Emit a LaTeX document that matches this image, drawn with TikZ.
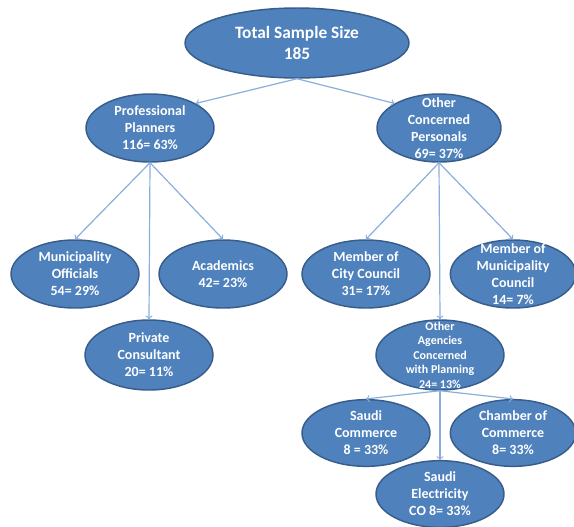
\documentclass[tikz,border=0pt]{standalone}
\usepackage{fontspec}
\setmainfont{Carlito}
\usepackage{xcolor}
\usetikzlibrary{shapes.geometric}

\definecolor{ellfill}{HTML}{4F81BD}
\definecolor{elldraw}{HTML}{385D8A}
\definecolor{linkblue}{HTML}{8AAEDC}

\begin{document}
\begin{tikzpicture}[
    x=0.75pt, y=-0.75pt,
    ellbox/.style={ellipse, draw=elldraw, line width=1.1pt, fill=ellfill, inner sep=0pt, minimum width=96pt, minimum height=51pt},
    ltext/.style={text=white, font=\bfseries\fontsize{10.5}{12.75}\selectfont, align=center},
    stext/.style={ltext, font=\bfseries\fontsize{9}{10.9}\selectfont},
    ttext/.style={ltext, font=\bfseries\fontsize{13}{15.5}\selectfont},
    arrow/.style={->, >=to, linkblue, line width=0.9pt}
]
\useasboundingbox (0,0) rectangle (574,526);

% Total
\node[ellbox, minimum width=168pt, minimum height=52.5pt, label={[ttext]center:{Total Sample Size\\185}}] (total) at (297,43) {};

% Second level
\node[ellbox, label={[ltext]center:{Professional\\Planners\\116= 63\%}}] (pp) at (150,128) {};
\node[ellbox, minimum width=93pt, label={[ltext]center:{Other\\Concerned\\Personals\\69= 37\%}}] (ocp) at (439,128) {};

% Professional planners
\node[ellbox, label={[ltext]center:{Municipality\\Officials\\54= 29\%}}] (mo) at (75,274) {};
\node[ellbox, label={[ltext]center:{Academics\\42= 23\%}}] (acad) at (223,274) {};
\node[ellbox, minimum height=52.5pt, label={[ltext]center:{Private\\Consultant\\20= 11\%}}] (pc) at (149,355) {};

% Other concerned personals
\node[ellbox, label={[ltext]center:{Member of\\City Council\\31= 17\%}}] (mcc) at (366,274) {};
\node[ellbox, minimum width=94pt, label={[ltext]center:{Member of\\Municipality\\Council\\14= 7\%}}] (mmc) at (513,274) {};
\node[ellbox, minimum height=52.5pt, label={[stext]center:{Other\\Agencies\\Concerned\\with Planning\\24= 13\%}}] (oa) at (440,355) {};

% Other agencies
\node[ellbox, minimum height=50pt, label={[ltext]center:{Saudi\\Commerce\\8 = 33\%}}] (sc) at (366,433) {};
\node[ellbox, minimum width=94pt, minimum height=50pt, label={[ltext]center:{Chamber of\\Commerce\\8= 33\%}}] (cc) at (513,433) {};
\node[ellbox, minimum height=50pt, label={[ltext]center:{Saudi\\Electricity\\CO 8= 33\%}}] (se) at (440,494) {};

% Arrows
\draw[arrow] (total.south) -- (pp.north east);
\draw[arrow] (total.south) -- (ocp.north west);
\draw[arrow] (pp.south) -- (mo.north);
\draw[arrow] (pp.south) -- (acad.north);
\draw[arrow] (pp.south) -- (pc.north);
\draw[arrow] (ocp.south) -- (mcc.north);
\draw[arrow] (ocp.south) -- (mmc.north);
\draw[arrow] (ocp.south) -- (oa.north);
\draw[arrow] (oa.south) -- (sc.north);
\draw[arrow] (oa.south) -- (cc.north);
\draw[arrow] (oa.south) -- (se.north);

\end{tikzpicture}
\end{document}
